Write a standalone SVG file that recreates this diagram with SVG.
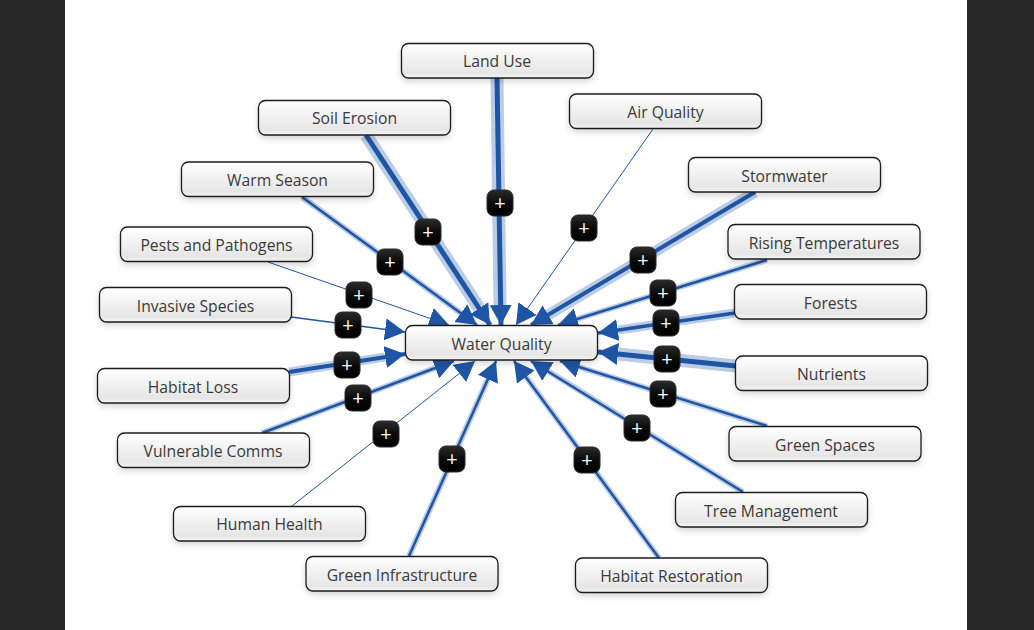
<svg xmlns="http://www.w3.org/2000/svg" width="1034" height="630" viewBox="0 0 1034 630">
<style>
.n rect{fill:url(#g);stroke:#1c1c1c;stroke-width:1.3;filter:url(#s)}
.n text{font:15.7px "Open Sans",sans-serif;fill:#3a3a3a;text-anchor:middle}
.c{fill:none;stroke:#1f55a5;marker-end:url(#a)}
.h{fill:none;stroke:#1f55a5;stroke-opacity:.3}
.p rect{fill:url(#b);stroke:#2a2a2a;stroke-width:1}
.p text{font:20px "Open Sans",sans-serif;fill:#fff;text-anchor:middle}
</style>
<defs>
<linearGradient id="g" x1="0" y1="0" x2="0" y2="1"><stop offset="0" stop-color="#fff"/><stop offset=".85" stop-color="#e6e6e6"/><stop offset="1" stop-color="#f4f4f4"/></linearGradient>
<linearGradient id="b" x1="0" y1="0" x2="0" y2="1"><stop offset="0" stop-color="#2b2b2b"/><stop offset=".5" stop-color="#0a0a0a"/><stop offset="1" stop-color="#000"/></linearGradient>
<filter id="s" x="-10%" y="-30%" width="120%" height="170%"><feDropShadow dx="0" dy="3" stdDeviation="3" flood-color="#000" flood-opacity=".16"/></filter>
<marker id="a" markerUnits="userSpaceOnUse" markerWidth="24" markerHeight="24" refX="20" refY="11" orient="auto"><path d="M0 0L20 11L0 22Z" fill="#1f55a5"/></marker>
</defs>
<rect width="1034" height="630" fill="#fff"/>
<rect width="65" height="630" fill="#282828"/>
<rect x="967" width="67" height="630" fill="#282828"/>
<g id="connectors">
<path class="h" stroke-width="13" d="M497 78L500 306"/><path class="c" stroke-width="5" d="M497 78L501 325"/>
<path class="h" stroke-width="13" d="M366 135L479 308"/><path class="c" stroke-width="5" d="M366 135L490 325"/>
<path class="c" stroke-width="1" d="M653 129L516 325"/>
<path class="h" stroke-width="6" d="M302 197L462 314"/><path class="c" stroke-width="2.500" d="M302 197L477 325"/>
<path class="h" stroke-width="11" d="M755 192L548 315"/><path class="c" stroke-width="4" d="M755 192L531 325"/>
<path class="h" stroke-width="6" d="M767 260L577 319"/><path class="c" stroke-width="2.500" d="M767 260L558 325"/>
<path class="c" stroke-width="1" d="M268 262L449 325"/>
<path class="c" stroke-width="1.500" d="M291 317L405 332"/>
<path class="h" stroke-width="9" d="M735 313L618 330"/><path class="c" stroke-width="3.500" d="M735 313L598 333"/>
<path class="h" stroke-width="13" d="M736 366L618 354"/><path class="c" stroke-width="5" d="M736 366L598 352"/>
<path class="h" stroke-width="9" d="M289 372L385 357"/><path class="c" stroke-width="4" d="M289 372L405 354"/>
<path class="h" stroke-width="6" d="M767 426L579 367"/><path class="c" stroke-width="2.500" d="M767 426L560 361"/>
<path class="h" stroke-width="6" d="M262 433L435 368"/><path class="c" stroke-width="2.500" d="M262 433L454 361"/>
<path class="h" stroke-width="6" d="M743 492L548 371"/><path class="c" stroke-width="2.500" d="M743 492L531 361"/>
<path class="c" stroke-width="1" d="M292 506L475 361"/>
<path class="h" stroke-width="6" d="M409 556L488 379"/><path class="c" stroke-width="2.500" d="M409 556L496 361"/>
<path class="h" stroke-width="6" d="M659 558L526 377"/><path class="c" stroke-width="2.500" d="M659 558L514 361"/>
</g>
<g id="buttons">
<g class="p"><rect x="487" y="190" width="26" height="26" rx="7"/><text x="500" y="210">+</text></g>
<g class="p"><rect x="415" y="219" width="26" height="26" rx="7"/><text x="428" y="239">+</text></g>
<g class="p"><rect x="571" y="215" width="26" height="26" rx="7"/><text x="584" y="235">+</text></g>
<g class="p"><rect x="377" y="249" width="26" height="26" rx="7"/><text x="390" y="269">+</text></g>
<g class="p"><rect x="630" y="247" width="26" height="26" rx="7"/><text x="643" y="267">+</text></g>
<g class="p"><rect x="650" y="280" width="26" height="26" rx="7"/><text x="663" y="300">+</text></g>
<g class="p"><rect x="346" y="282" width="26" height="26" rx="7"/><text x="359" y="302">+</text></g>
<g class="p"><rect x="335" y="312" width="26" height="26" rx="7"/><text x="348" y="332">+</text></g>
<g class="p"><rect x="653" y="310" width="26" height="26" rx="7"/><text x="666" y="330">+</text></g>
<g class="p"><rect x="654" y="346" width="26" height="26" rx="7"/><text x="667" y="366">+</text></g>
<g class="p"><rect x="334" y="352" width="26" height="26" rx="7"/><text x="347" y="372">+</text></g>
<g class="p"><rect x="650" y="381" width="26" height="26" rx="7"/><text x="663" y="401">+</text></g>
<g class="p"><rect x="345" y="385" width="26" height="26" rx="7"/><text x="358" y="405">+</text></g>
<g class="p"><rect x="624" y="415" width="26" height="26" rx="7"/><text x="637" y="435">+</text></g>
<g class="p"><rect x="373" y="421" width="26" height="26" rx="7"/><text x="386" y="441">+</text></g>
<g class="p"><rect x="439" y="446" width="26" height="26" rx="7"/><text x="452" y="466">+</text></g>
<g class="p"><rect x="574" y="447" width="26" height="26" rx="7"/><text x="587" y="467">+</text></g>
</g>
<g id="land-use" class="n"><rect x="401.500" y="43.500" width="192" height="34.500" rx="7"/><text x="497" y="67">Land Use</text></g>
<g id="soil-erosion" class="n"><rect x="258.500" y="100.500" width="192" height="34.500" rx="7"/><text x="354.500" y="124.300">Soil Erosion</text></g>
<g id="air-quality" class="n"><rect x="569.500" y="94" width="192" height="34.500" rx="7"/><text x="665.500" y="118">Air Quality</text></g>
<g id="warm-season" class="n"><rect x="181.500" y="162" width="192" height="34.500" rx="7"/><text x="277.500" y="186.300">Warm Season</text></g>
<g id="stormwater" class="n"><rect x="688.500" y="157.500" width="192" height="34.500" rx="7"/><text x="784.500" y="181.500">Stormwater</text></g>
<g id="rising-temperatures" class="n"><rect x="728" y="224.500" width="192" height="34.500" rx="7"/><text x="824" y="249">Rising Temperatures</text></g>
<g id="pests-and-pathogens" class="n"><rect x="120.500" y="227" width="192" height="34.500" rx="7"/><text x="216.500" y="251">Pests and Pathogens</text></g>
<g id="invasive-species" class="n"><rect x="99.500" y="287.500" width="192" height="34.500" rx="7"/><text x="195.500" y="312">Invasive Species</text></g>
<g id="forests" class="n"><rect x="734.500" y="284.500" width="192" height="34.500" rx="7"/><text x="830.500" y="308.500">Forests</text></g>
<g id="water-quality" class="n"><rect x="405.500" y="325.500" width="192" height="34.500" rx="7"/><text x="501.500" y="349.500">Water Quality</text></g>
<g id="nutrients" class="n"><rect x="735.500" y="356" width="192" height="34.500" rx="7"/><text x="831.500" y="380">Nutrients</text></g>
<g id="habitat-loss" class="n"><rect x="97.500" y="368.500" width="192" height="34.500" rx="7"/><text x="193" y="392.500">Habitat Loss</text></g>
<g id="green-spaces" class="n"><rect x="729" y="426.500" width="192" height="34.500" rx="7"/><text x="825" y="451">Green Spaces</text></g>
<g id="vulnerable-comms" class="n"><rect x="117.500" y="433" width="192" height="34.500" rx="7"/><text x="213" y="457.300">Vulnerable Comms</text></g>
<g id="tree-management" class="n"><rect x="675.500" y="492.500" width="192" height="34.500" rx="7"/><text x="771" y="517">Tree Management</text></g>
<g id="human-health" class="n"><rect x="173.500" y="506.500" width="192" height="34.500" rx="7"/><text x="269.500" y="530.300">Human Health</text></g>
<g id="green-infrastructure" class="n"><rect x="306" y="556.500" width="192" height="34.500" rx="7"/><text x="402" y="580.500">Green Infrastructure</text></g>
<g id="habitat-restoration" class="n"><rect x="575.500" y="558" width="192" height="34.500" rx="7"/><text x="671.500" y="581.500">Habitat Restoration</text></g>
</svg>
